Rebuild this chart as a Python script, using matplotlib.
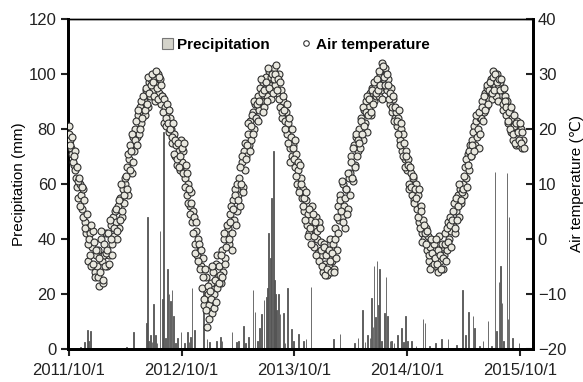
import matplotlib
matplotlib.use("Agg")
import matplotlib.pyplot as plt
from matplotlib.patches import Patch
from matplotlib.lines import Line2D
import pandas as pd

plt.rcParams['font.family'] = ['Liberation Sans', 'DejaVu Sans']

# air temperature (deg C), one reading every 4 days from 2011/10/1
temp_start = "2011-10-01"
temp = [
    # 2011/10 - 2012/9
    20.5, 18, 16.5, 15.5, 13.5, 16, 11, 9.5,
    7.5, 10, 8, 5.5, 9, 3, 1, 2,
    -4, 1, -5, -1.5, 1.5, -6, -3,
    -5, -2, -8.5, 0, -4, -8, -3, 1,
    -5, 1, -3, 2.5, -1, 4, 0.5,
    3, 0, 6, 2, 7.5, 4, 9, 6.5,
    10, 13, 8, 14.5, 17, 12, 18.5,
    16, 20, 18.5, 22.5, 19, 24, 21, 23,
    25, 22.5, 27, 24, 28.5, 26, 29,
    27, 29.5, 25, 28, 30, 26.5, 29, 24.5,
    26, 21, 24, 20.5, 23, 19.5, 22,
    20, 17.5, 19, 15, 17, 13.5, 16, 12.5,
    # 2012/10 - 2013/9
    18, 14, 16, 11, 13.5, 8, 10, 6,
    8.5, 3, 5, -1, 1.5, -3, 0, -2,
    -5, -9, -3.5, -12, -7, -16, -10,
    -12, -8, -13.5, -6, -10, -4.5, -9, -7,
    -5, -8, -2, -6, 0, -3.5, 1,
    2, -1, 4.5, 1, 7, 3.5, 9, 5,
    8, 11, 6, 14, 9.5, 16, 12.5,
    15, 19, 17, 21.5, 18, 23, 20, 24.5,
    22, 26, 23.5, 27.5, 25, 28.5, 24,
    27, 29.5, 26, 30.5, 28, 25.5, 29, 31,
    28, 31.6, 26.5, 30, 24, 27, 22,
    25, 21.5, 23, 19, 21, 16.5, 18.5, 15,
    # 2013/10 - 2014/9
    17, 13, 15.5, 10, 12.5, 9, 11, 7.5,
    9, 5, 7, 2.5, 4.5, 1, 3.5, 6,
    2, -1.5, 4, 0, -2.5, 3, -0.5,
    -3, -6, -1, -4.5, -6.5, -2, -5, 0,
    -4, -1, -5.5, 2, -2, 6, 3.5,
    8, 4, 10, 6, 2, 9, 5.5, 11,
    12, 15, 10.5, 17, 13.5, 18.5, 16,
    20, 16.5, 22, 18, 23.5, 21, 25, 19.5,
    24, 26.5, 22.5, 27.5, 25, 28, 26,
    28.5, 26, 30, 27, 32, 29, 31, 27.5,
    27, 29, 24.5, 27.5, 23, 25.5, 22,
    23, 20.5, 22, 18, 20, 16, 19, 14.5,
    # 2014/10 - 2015/10
    16, 12.5, 14.5, 10, 12, 8, 11, 7,
    10, 5.5, 8, 3, 6, 1, 3.5, 0,
    2, -2, 0.5, -4, -1.5, -5, -3,
    -1, -5, -2.5, -6, 0.5, -4, -1.5, -5.5,
    -3, 1, -2, 3, 0, 4, 1.5,
    3, 6.5, 1, 5, 8, 4, 9, 6.5,
    10, 8, 13, 11, 15.5, 12.5, 17,
    15, 18, 20.5, 17, 21.5, 19, 16.5, 22,
    22, 25, 23, 26.5, 24, 27.5, 25.5,
    27, 29, 25.5, 30.5, 28, 26, 30, 27.5,
    28.5, 25, 27, 23.5, 26, 22.5, 25,
    21, 23.5, 19.5, 22, 18, 20.5, 17, 21.5,
    19.5, 17, 20, 16.5, 18,
]

# the readings in between (2 days after each of the above)
temp_mid = [
    # 2011/10 - 2012/9
    19, 17, 18.5, 14, 15, 12.5, 13, 10.5,
    11, 6, 9.5, 4, 7, 2, 4.5, -1,
    0, -3, 2.5, -4.5, -0.5, -7, -2,
    -7, -3.5, -6, 1.5, -7.5, -1, -5, -2.5,
    -2, -4.5, 3.5, 0, -3, 2, 5,
    5.5, 1.5, 7, 3.5, 10, 5, 8, 11,
    11.5, 9, 15.5, 12.5, 16, 19, 14,
    18, 21.5, 17, 23.5, 20, 25, 22, 26,
    23.5, 27.5, 24.5, 29.5, 26.5, 28, 30,
    28.5, 26, 30.5, 27.5, 25.5, 29.5, 28, 26,
    23, 25.5, 22, 24.5, 21, 23.5, 20,
    18.5, 21, 15.5, 18, 14.5, 17.5, 13, 15,
    # 2012/10 - 2013/9
    16.5, 12, 17.5, 9.5, 12, 6.5, 9, 4.5,
    6.5, 1, 4, -2.5, 3, -4, -1, -5.5,
    -2, -7, -11, -5.5, -13, -8.5, -14.5,
    -9.5, -11, -5, -12.5, -7.5, -11.5, -3, -8,
    -6.5, -3, -7, 1, -4.5, -1.5, 2.5,
    0, 3, 6, -2, 5.5, 8, 2.5, 10,
    7, 13, 10, 15, 8.5, 17.5, 14.5,
    17, 21, 16, 20.5, 22.5, 19, 25, 22,
    24.5, 21.5, 25, 29, 26.5, 23, 27,
    28.5, 25, 31, 27.5, 29.5, 30, 26.5, 29,
    30, 27, 29, 25.5, 28.5, 23, 26,
    23.5, 20, 24.5, 17.5, 22, 14, 20, 16.5,
    # 2013/10 - 2014/9
    14.5, 18, 11.5, 14, 8.5, 13.5, 10, 6,
    7.5, 3.5, 8.5, 0.5, 5.5, 2, -1, 4.5,
    0.5, 3, -3, 1.5, -4, 2, -2,
    -5, -1.5, -6.5, -3, -5.5, -2, -4, -6,
    -2.5, -6, 0, -3.5, 4, 1, 7,
    5, 10.5, 3, 7.5, 9, 4.5, 12, 8,
    14, 11, 16.5, 13, 19, 15, 18,
    17.5, 21.5, 19, 24, 20.5, 23, 26, 22.5,
    25.5, 23, 27, 24.5, 28.5, 26.5, 29,
    27, 30.5, 28, 25.5, 31.5, 29.5, 28, 30,
    28, 25.5, 26.5, 24, 26, 21.5, 24,
    21.5, 19, 23.5, 17, 21, 15, 17.5, 13,
    # 2014/10 - 2015/10
    15, 13.5, 9, 13, 9.5, 11.5, 6.5, 9,
    7.5, 4, 9, 2, 5, -0.5, 2.5, 1,
    -1, 1.5, -3, -5.5, 0, -2.5, -4.5,
    -3.5, 0, -4.5, -2, -3, -5.5, -1, -3.5,
    -1, -4, 2, -0.5, 2.5, -1.5, 3.5,
    5, 2, 7.5, 3.5, 6, 10, 7, 8.5,
    9, 11.5, 14.5, 9.5, 13.5, 16, 15,
    17, 19.5, 16, 22.5, 18.5, 20, 23, 19,
    24, 21.5, 26, 23.5, 28, 24.5, 27,
    28.5, 26.5, 29.5, 27, 30, 28.5, 25, 29,
    27, 29, 24.5, 27.5, 25, 24, 21.5,
    23, 20, 24, 19, 22.5, 17.5, 21, 19.5,
    18, 21, 17.5, 19.5, 16.5,
]

# daily precipitation events (mm)
rain_dates = [
    "2011-11-08", "2011-11-21", "2011-11-30", "2011-12-04", "2011-12-11",
    "2012-04-06", "2012-04-27", "2012-06-09", "2012-06-13", "2012-06-17", "2012-06-22",
    "2012-06-27", "2012-07-01", "2012-07-08", "2012-07-13", "2012-07-23", "2012-07-30",
    "2012-08-04", "2012-08-09", "2012-08-17", "2012-08-21", "2012-08-26",
    "2012-08-31", "2012-09-04", "2012-09-11", "2012-09-17", "2012-09-29",
    "2012-10-10", "2012-10-19", "2012-10-25", "2012-10-29", "2012-11-04", "2012-11-12",
    "2012-12-11", "2012-12-22", "2012-12-31", "2013-01-23", "2013-02-03", "2013-02-09",
    "2013-03-13", "2013-03-28", "2013-04-03", "2013-04-20", "2013-04-25", "2013-05-06",
    "2013-05-20", "2013-05-27", "2013-06-03", "2013-06-10", "2013-06-18",
    "2013-06-25", "2013-07-02", "2013-07-06", "2013-07-09", "2013-07-15",
    "2013-07-20", "2013-07-25", "2013-07-29", "2013-07-31", "2013-08-05",
    "2013-08-11", "2013-08-16", "2013-08-27", "2013-09-01", "2013-09-09",
    "2013-09-23", "2013-09-29",
    "2013-10-14", "2013-10-30", "2013-11-08", "2013-11-24", "2014-02-04",
    "2014-02-26", "2014-04-15", "2014-04-25", "2014-05-09", "2014-05-18",
    "2014-05-25", "2014-06-03", "2014-06-08", "2014-06-13", "2014-06-16",
    "2014-06-22", "2014-06-26", "2014-06-30", "2014-07-05", "2014-07-11",
    "2014-07-19", "2014-07-25", "2014-07-29", "2014-08-07", "2014-08-12",
    "2014-08-20", "2014-08-30", "2014-09-14", "2014-09-19", "2014-09-27",
    "2014-10-02", "2014-10-16", "2014-10-30", "2014-11-22", "2014-11-28",
    "2014-12-14", "2015-01-02", "2015-01-21", "2015-02-11", "2015-03-10",
    "2015-03-30", "2015-04-09", "2015-04-17", "2015-05-03", "2015-05-08",
    "2015-05-25", "2015-06-04", "2015-06-20", "2015-07-01", "2015-07-13",
    "2015-07-19", "2015-07-26", "2015-07-31", "2015-08-05", "2015-08-10",
    "2015-08-21", "2015-08-24", "2015-08-27", "2015-09-07", "2015-09-29",
]
rain = [
    0.8, 2.5, 7, 3, 6.5,
    0.6, 6, 9.5, 48, 3, 5,
    2.5, 16.5, 5, 2, 43, 18,
    79, 4, 29, 20, 17.5,
    21.5, 12, 2, 4, 6,
    2, 6.3, 2.7, 4.5, 22, 7,
    22, 3.6, 2.7, 3, 4.2, 3,
    6, 2.5, 3, 8.4, 2, 4.5,
    21.5, 13.6, 3, 7.8, 12.7,
    17.8, 19, 22, 42, 33,
    55, 72, 25, 20, 14,
    20, 12.7, 13, 2.3, 22,
    7.3, 3,
    5.5, 3, 3.5, 22.4, 3.7,
    5.5, 2, 4, 14, 2.5,
    5, 4, 18.4, 8, 30,
    11.7, 32, 16, 29, 3,
    13, 26, 12, 3, 3,
    2, 5, 7.8, 2.5, 12,
    3, 3, 1, 11, 9.5,
    1, 2, 3.5, 3.6, 1.5,
    21.5, 5, 13.6, 12, 7.8,
    1, 3, 10.3, 1, 64.5,
    6.7, 24.5, 30, 16.6, 3,
    64, 11, 48, 4, 2,
]

tick_dates = ["2011-10-01", "2012-10-01", "2013-10-01", "2014-10-01", "2015-10-01"]
tick_labels = ["2011/10/1", "2012/10/1", "2013/10/1", "2014/10/1", "2015/10/1"]

temp_dates = pd.date_range(temp_start, periods=len(temp), freq="4D")
mid_dates = temp_dates[:len(temp_mid)] + pd.Timedelta(days=2)

fig = plt.figure(figsize=(5.83, 3.82), dpi=100)
ax = fig.add_axes([0.1166, 0.0864, 0.7976, 0.8639])
ax2 = ax.twinx()

ax.bar(pd.to_datetime(rain_dates), rain, width=2.5, color="#555555",
       edgecolor="#555555", linewidth=0.6)
ax2.scatter(temp_dates.append(mid_dates), temp + temp_mid, s=25,
            facecolor="#e9e8df", edgecolor="#2e2e2e", linewidths=0.8, zorder=3)

ax.set_xlim(pd.Timestamp("2011-09-29"), pd.Timestamp("2015-11-13"))
ax.set_ylim(0, 120)
ax2.set_ylim(-20, 40)
ax.set_yticks(range(0, 121, 20))
ax2.set_yticks(range(-20, 41, 10))
ax.set_xticks(pd.to_datetime(tick_dates))
ax.set_xticklabels(tick_labels)

ax.set_ylabel("Precipitation (mm)", fontsize=11, labelpad=2)
ax2.set_ylabel("Air temperature (℃)", fontsize=11, labelpad=3)

ax.tick_params(axis="both", labelsize=12, direction="out", length=5, width=1.5, colors="#222222")
ax.tick_params(axis="x", pad=5)
ax2.tick_params(axis="y", labelsize=12, direction="in", length=5, width=1.5, colors="#222222")
for s in ["left", "bottom", "right"]:
    ax2.spines[s].set_linewidth(2)
    ax.spines[s].set_linewidth(2)
ax.spines["top"].set_linewidth(1)
ax2.spines["top"].set_linewidth(1)

handles = [
    Patch(facecolor="#d4d3ca", edgecolor="#777777", linewidth=0.8),
    Line2D([], [], marker="o", linestyle="none", markersize=4,
           markerfacecolor="white", markeredgecolor="#333333", markeredgewidth=0.8),
]
ax2.legend(handles, ["Precipitation", "Air temperature"], loc="upper center",
           bbox_to_anchor=(0.49, 0.985), ncol=2, frameon=False,
           prop={"weight": "bold", "size": 11}, handlelength=0.7, handletextpad=0.3,
           columnspacing=2.0)

fig.savefig("out.png", dpi=100)
